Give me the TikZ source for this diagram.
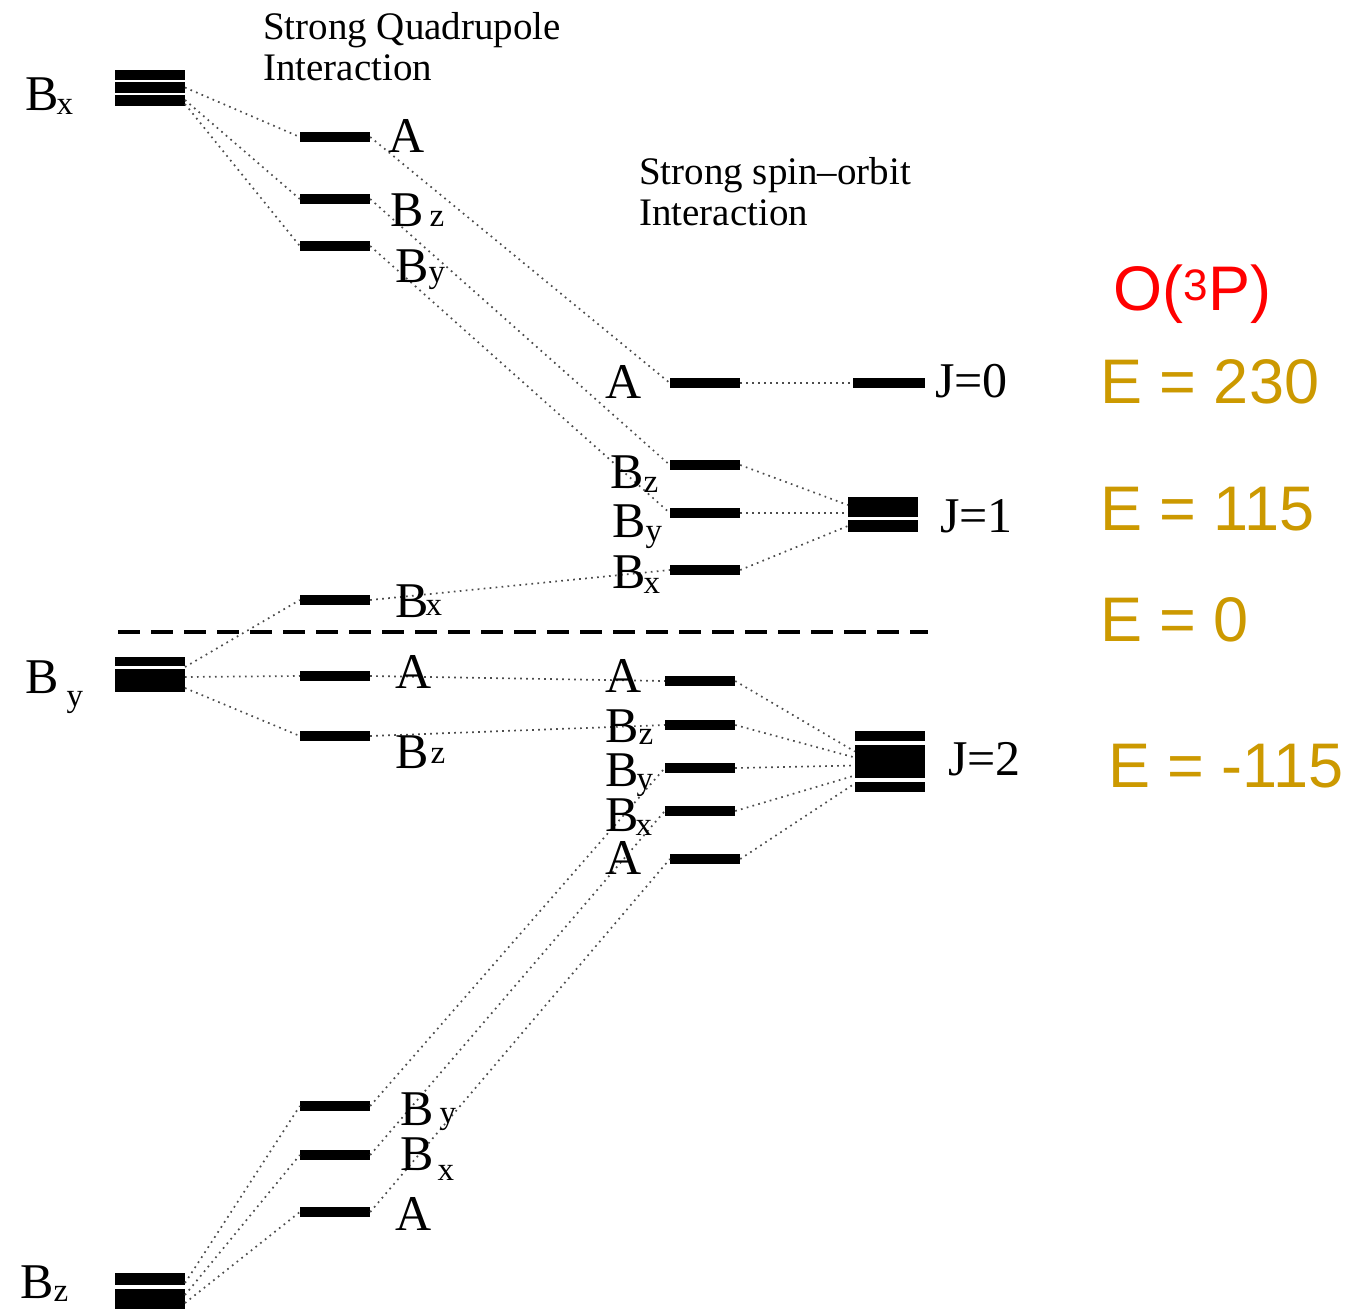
\documentclass[tikz,border=0pt]{standalone}
\usepackage{fontspec}
\setmainfont{Liberation Serif}
\newfontfamily\arialf{Liberation Sans}
\newcommand\lblsize{\fontsize{50}{55}\selectfont}
\newcommand\sbx[2]{{\fontsize{33}{33}\selectfont\raisebox{#1}{#2}}}
\definecolor{goldtxt}{RGB}{204,153,0}
\begin{document}
\begin{tikzpicture}[x=1pt,y=-1pt,
  bar/.style={rectangle,fill=black,inner sep=0pt,minimum width=70pt,minimum height=10pt},
  conn/.style={line width=1.7pt,black!70,dash pattern=on 1.7pt off 4.3pt},
  lbl/.style={inner sep=0pt,anchor=base west,font=\lblsize},
  ttl/.style={inner sep=0pt,anchor=north west,align=left,font=\fontsize{39}{41}\selectfont},
  en/.style={inner sep=0pt,anchor=base west,font=\arialf\fontsize{63}{63}\selectfont,text=goldtxt}]
\fill[white] (0,0) rectangle (1351,1309);
\useasboundingbox (0,0) rectangle (1351,1309);

% titles
\node[ttl] (t1) at (263,12) {Strong Quadrupole\\Interaction};
\node[ttl] (t2) at (639,157) {Strong spin--orbit\\Interaction};

% connector end points on the left stacks
\coordinate (bxbE) at (185,87.5);
\coordinate (bxcE) at (185,100);
\coordinate (bycE) at (185,104);
\coordinate (by1E) at (185,667);
\coordinate (by2E) at (185,677);
\coordinate (by3E) at (185,688);
\coordinate (bz1E) at (185,1283);
\coordinate (bz2E) at (185,1295);
\coordinate (bz3E) at (185,1303);

% left stacks
\node[bar,minimum height=10pt] (bxa) at (150,75) {};
\node[bar,minimum height=11pt] (bxb) at (150,87.5) {};
\node[bar,minimum height=11pt] (bxc) at (150,100.5) {};
\node[bar,minimum height=9pt] (bya) at (150,661.5) {};
\node[bar,minimum height=23pt] (byb) at (150,680.5) {};
\node[bar,minimum height=12pt] (bza) at (150,1279) {};
\node[bar,minimum height=20pt] (bzb) at (150,1299) {};

% quadrupole column
\node[bar] (qA1) at (335,137) {};
\node[bar] (qBz1) at (335,199) {};
\node[bar] (qBy1) at (335,246) {};
\node[bar] (qBx2) at (335,600) {};
\node[bar] (qA2) at (335,676) {};
\node[bar] (qBz2) at (335,736) {};
\node[bar] (qBy3) at (335,1106) {};
\node[bar] (qBx3) at (335,1155) {};
\node[bar] (qA3) at (335,1212) {};

% spin-orbit column
\node[bar] (mA1) at (705,383) {};
\node[bar] (mBz1) at (705,465) {};
\node[bar] (mBy1) at (705,513) {};
\node[bar] (mBx1) at (705,570) {};
\node[bar] (mA2) at (700,681) {};
\node[bar] (mBz2) at (700,725) {};
\node[bar] (mBy2) at (700,768) {};
\node[bar] (mBx2) at (700,811) {};
\node[bar] (mA3) at (705,859) {};

% J levels
\node[bar,minimum width=72pt] (J0) at (889,383) {};
\node[bar,minimum height=20pt] (J1a) at (883,507) {};
\node[bar,minimum height=12pt] (J1b) at (883,526) {};
\node[bar] (J2a) at (890,736) {};
\node[bar,minimum height=33pt] (J2b) at (890,761.5) {};
\node[bar] (J2c) at (890,787) {};

% dashed zero line
\coordinate (dl) at (118,632);
\coordinate (dr) at (928,632);
\draw[line width=4pt,dash pattern=on 22pt off 11pt] (dl) -- (dr);

% connectors
\draw[conn] (bxbE) -- (qA1.west);
\draw[conn] (bxcE) -- (qBz1.west);
\draw[conn] (bycE) -- (qBy1.west);
\draw[conn] (qA1.east) -- (mA1.west);
\draw[conn] (qBz1.east) -- (mBz1.west);
\draw[conn] (qBy1.east) -- (mBy1.west);
\draw[conn] (by1E) -- (qBx2.west);
\draw[conn] (by2E) -- (qA2.west);
\draw[conn] (by3E) -- (qBz2.west);
\draw[conn] (qBx2.east) -- (mBx1.west);
\draw[conn] (qA2.east) -- (mA2.west);
\draw[conn] (qBz2.east) -- (mBz2.west);
\draw[conn] (bz1E) -- (qBy3.west);
\draw[conn] (bz2E) -- (qBx3.west);
\draw[conn] (bz3E) -- (qA3.west);
\draw[conn] (qBy3.east) -- (mBy2.west);
\draw[conn] (qBx3.east) -- (mBx2.west);
\draw[conn] (qA3.east) -- (mA3.west);
\draw[conn] (mA1.east) -- (J0.west);
\draw[conn] (mBz1.east) -- ([yshift=2pt]J1a.west);
\draw[conn] (mBy1.east) -- ([yshift=-6pt]J1a.west);
\draw[conn] (mBx1.east) -- (J1b.west);
\draw[conn] (mA2.east) -- ([yshift=10pt]J2b.west);
\draw[conn] (mBz2.east) -- ([yshift=4pt]J2b.west);
\draw[conn] (mBy2.east) -- ([yshift=-4pt]J2b.west);
\draw[conn] (mBx2.east) -- ([yshift=-14pt]J2b.west);
\draw[conn] (mA3.east) -- ([yshift=-22pt]J2b.west);

% labels
\node[lbl] (lBx) at (25,110) {B\kern-2pt\sbx{-4pt}{x}};
\node[lbl] (lBy) at (25,693) {B\kern8pt\sbx{-13pt}{y}};
\node[lbl] (lBz) at (20,1298) {B\sbx{-3pt}{z}};

\node[lbl] (tA1) at (388,152) {A};
\node[lbl] (tBz1) at (390,226) {B\kern6pt\sbx{0pt}{z}};
\node[lbl] (tBy1) at (395,282) {B\sbx{0pt}{y}};
\node[lbl] (tBx2) at (395,617) {B\kern-3pt\sbx{2pt}{x}};
\node[lbl] (tA2) at (395,688) {A};
\node[lbl] (tBz2) at (395,768) {B\kern2pt\sbx{5pt}{z}};
\node[lbl] (tBy3) at (400,1125) {B\kern6pt\sbx{2pt}{y}};
\node[lbl] (tBx3) at (400,1170) {B\kern4pt\sbx{-10pt}{x}};
\node[lbl] (tA3) at (395,1230) {A};

\node[lbl] (sA1) at (605,398) {A};
\node[lbl] (sBz1) at (610,488) {B\sbx{-4pt}{z}};
\node[lbl] (sBy1) at (612,537) {B\sbx{-4pt}{y}};
\node[lbl] (sBx1) at (612,588) {B\kern-2pt\sbx{-5pt}{x}};
\node[lbl] (sA2) at (605,692) {A};
\node[lbl] (sBz2) at (605,742) {B\sbx{-2pt}{z}};
\node[lbl] (sBy2) at (605,786) {B\kern-2pt\sbx{-3pt}{y}};
\node[lbl] (sBx2) at (605,831) {B\kern-3pt\sbx{-4pt}{x}};
\node[lbl] (sA3) at (605,874) {A};

\node[lbl] (lJ0) at (935,397) {J=0};
\node[lbl] (lJ1) at (940,532) {J=1};
\node[lbl] (lJ2) at (948,775) {J=2};

% energies
\node[en,text=red] (O3P) at (1113,310) {O(\textsuperscript{3}P)};
\node[en] (E230) at (1100,403) {E = 230};
\node[en] (E115) at (1100,530) {E = 115};
\node[en] (E0) at (1100,641) {E = 0};
\node[en] (Em115) at (1108,787) {E = -115};
\end{tikzpicture}
\end{document}
